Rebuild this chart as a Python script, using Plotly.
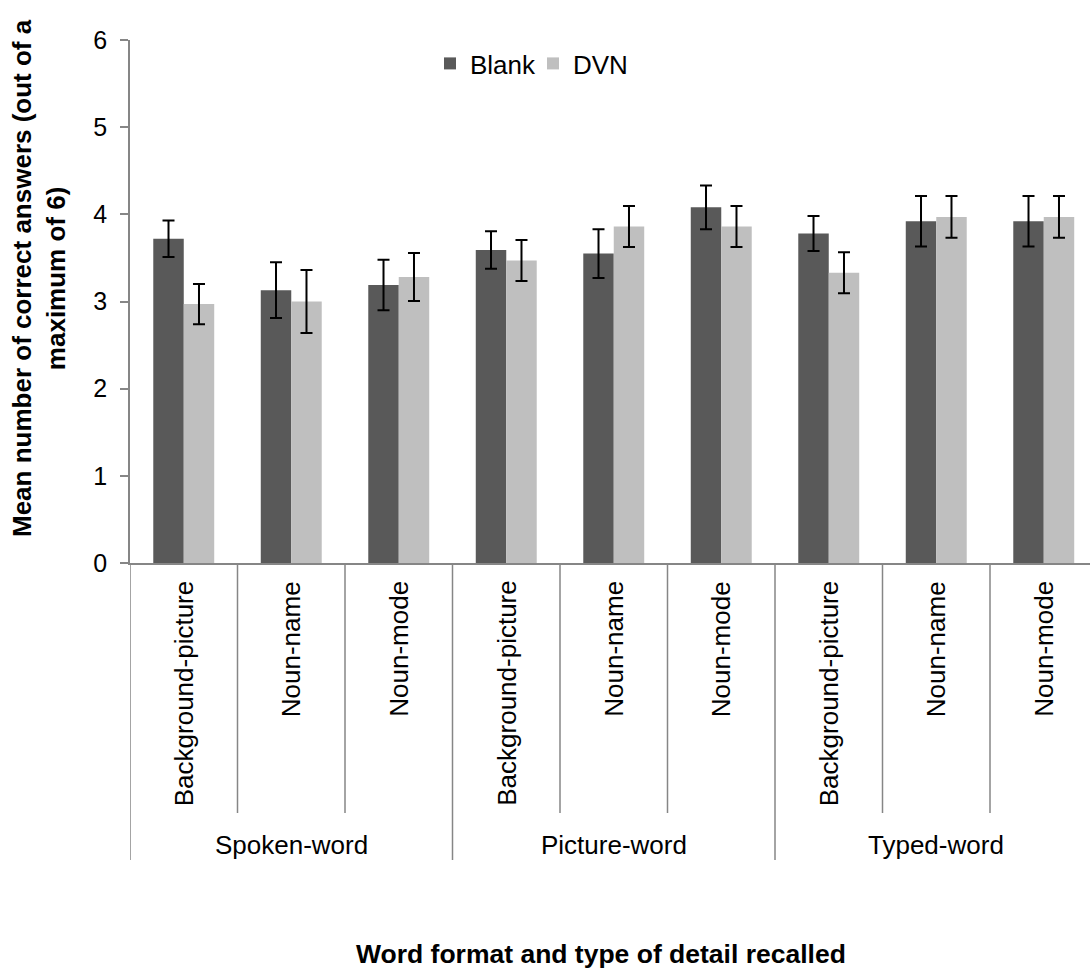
import plotly.graph_objects as go

groups = ["Spoken-word", "Picture-word", "Typed-word"]
details = ["Background-picture", "Noun-name", "Noun-mode"]

blank_mean = [3.72, 3.13, 3.19, 3.59, 3.55, 4.08, 3.78, 3.92, 3.92]
blank_err = [0.21, 0.32, 0.29, 0.215, 0.28, 0.25, 0.20, 0.29, 0.29]
dvn_mean = [2.97, 3.00, 3.28, 3.47, 3.86, 3.86, 3.33, 3.97, 3.97]
dvn_err = [0.23, 0.36, 0.275, 0.235, 0.235, 0.235, 0.235, 0.24, 0.24]

y_ticks = [0, 1, 2, 3, 4, 5, 6]

FONT = "Arial, Liberation Sans, sans-serif"
AXIS_COLOR = "#868686"

n_cat = len(groups) * len(details)
xpos = list(range(n_cat))

fig = go.Figure()
fig.add_trace(go.Bar(
    x=xpos, y=blank_mean, name="Blank",
    marker=dict(color="#595959", line=dict(width=0)),
    error_y=dict(type="data", array=blank_err, color="black", thickness=2, width=6),
))
fig.add_trace(go.Bar(
    x=xpos, y=dvn_mean, name="DVN",
    marker=dict(color="#BFBFBF", line=dict(width=0)),
    error_y=dict(type="data", array=dvn_err, color="black", thickness=2, width=6),
))

L, T, B = 130, 40, 405
W, H = 1090, 968
plot_w = W - L
plot_h = H - T - B
cat_px = 107.5

def px_to_paper_y(py):
    return (H - B - py) / plot_h

def px_to_paper_x(px):
    return (px - L) / plot_w

shapes = []
n_det = len(details)
for k in range(n_cat + 1):
    xb = k - 0.5
    outer = (k % n_det == 0)
    y1 = px_to_paper_y(860 if outer else 813)
    shapes.append(dict(type="line", xref="x", yref="paper", x0=xb, x1=xb,
                       y0=0, y1=y1, line=dict(color=AXIS_COLOR, width=1.5)))

annotations = []
for gi, g in enumerate(groups):
    for di, d in enumerate(details):
        annotations.append(dict(
            x=gi * n_det + di, xref="x", y=px_to_paper_y(579), yref="paper",
            text=d, textangle=-90, showarrow=False, xanchor="center", yanchor="top",
            font=dict(family=FONT, size=26, color="black"),
        ))
    annotations.append(dict(
        x=gi * n_det + (n_det - 1) / 2, xref="x", y=px_to_paper_y(845), yref="paper",
        text=g, showarrow=False, xanchor="center", yanchor="middle",
        font=dict(family=FONT, size=26, color="black"),
    ))

annotations.append(dict(
    x=px_to_paper_x(601), xref="paper", y=px_to_paper_y(954), yref="paper",
    text="<b>Word format and type of detail recalled</b>", showarrow=False,
    xanchor="center", yanchor="middle",
    font=dict(family=FONT, size=26.5, color="black"),
))
annotations.append(dict(
    x=px_to_paper_x(39), xref="paper", y=px_to_paper_y(278), yref="paper",
    text="<b>Mean number of correct answers (out of a<br>maximum of 6)</b>",
    textangle=-90, showarrow=False, xanchor="center", yanchor="middle",
    font=dict(family=FONT, size=26, color="black"),
))

fig.update_layout(
    width=W, height=H,
    margin=dict(l=L, r=0, t=T, b=B, pad=0),
    paper_bgcolor="white", plot_bgcolor="white",
    barmode="group", bargap=0.433, bargroupgap=0,
    font=dict(family=FONT, size=25, color="black"),
    showlegend=True,
    legend=dict(orientation="h", x=px_to_paper_x(430), y=px_to_paper_y(40),
                xanchor="left", yanchor="top",
                font=dict(family=FONT, size=26, color="black"),
                bgcolor="rgba(0,0,0,0)", itemwidth=30, tracegroupgap=0,
                entrywidth=58, entrywidthmode="pixels"),
    shapes=shapes,
    annotations=annotations,
    xaxis=dict(range=[-0.5, -0.5 + plot_w / cat_px], showticklabels=False,
               showline=True, linecolor=AXIS_COLOR, linewidth=1.5,
               ticks="", showgrid=False, zeroline=False, fixedrange=True),
    yaxis=dict(range=[0, 6], tickvals=y_ticks, ticktext=[str(v) for v in y_ticks],
               showline=True, linecolor=AXIS_COLOR, linewidth=1.5,
               ticks="outside", ticklen=8, tickwidth=1.5, tickcolor=AXIS_COLOR,
               ticklabelstandoff=8,
               tickfont=dict(family=FONT, size=25, color="black"),
               showgrid=False, zeroline=False),
)

fig.write_html("out.html",
               config={"displayModeBar": False},
               post_script="document.body.style.margin='0px';document.body.style.overflow='hidden';")
